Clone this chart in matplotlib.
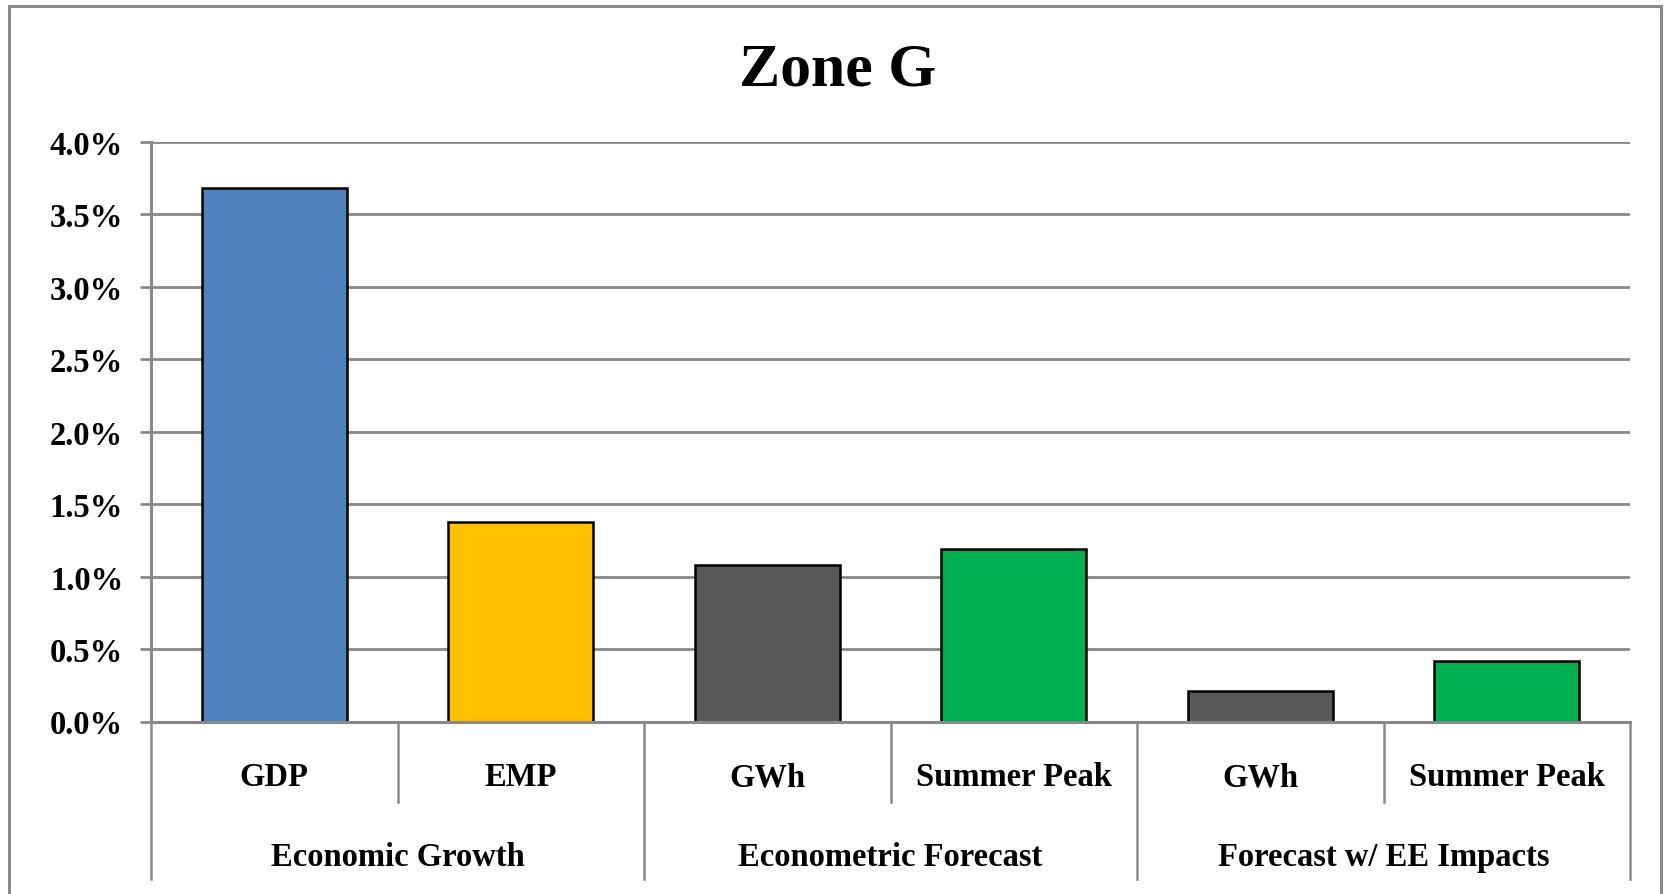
"""
Zone G growth rates: bar chart with two-level category axis.
"""

import matplotlib
matplotlib.use("Agg")
import matplotlib.pyplot as plt
from matplotlib.ticker import FuncFormatter
from matplotlib.lines import Line2D

# data
sub_labels = ["GDP", "EMP", "GWh", "Summer Peak", "GWh", "Summer Peak"]
group_labels = ["Economic Growth", "Econometric Forecast", "Forecast w/ EE Impacts"]
group_sizes = [2, 2, 2]
growth_pct = [3.68, 1.38, 1.08, 1.19, 0.21, 0.42]
bar_colors = ["#4F81BD", "#FFC000", "#595959", "#00B050", "#595959", "#00B050"]
y_ticks = [0.0, 0.5, 1.0, 1.5, 2.0, 2.5, 3.0, 3.5, 4.0]

W, H, DPI = 1669, 895, 100
GRAY = "#898989"
FONT = "Liberation Serif"

fig = plt.figure(figsize=(W / DPI, H / DPI), dpi=DPI)

# outer chart-area border (bottom edge runs off the picture)
for xs, ys in [([9, 9], [0, 888]), ([9, 1661], [888, 888]), ([1661, 1661], [888, 0])]:
    fig.add_artist(Line2D([x / W for x in xs], [y / H for y in ys],
                          color=GRAY, lw=2.2, transform=fig.transFigure))

left, right, top, bottom = 151, 1630, 143, 722.5
ax = fig.add_axes([left / W, 1 - bottom / H, (right - left) / W, (bottom - top) / H])

x = list(range(len(growth_pct)))
ax.bar(x, growth_pct, width=0.59, color=bar_colors, edgecolor="black",
       linewidth=1.8, zorder=3)

ax.set_xlim(-0.5, len(x) - 0.5)
ax.set_ylim(0, 4.0)
ax.set_yticks(y_ticks)
ax.yaxis.set_major_formatter(FuncFormatter(lambda v, _: f"{v:.1f}%"))
ax.grid(axis="y", color=GRAY, lw=2, zorder=0)
ax.set_axisbelow(True)
ax.set_xticks([])

for s in ["top", "right"]:
    ax.spines[s].set_visible(False)
for s in ["left", "bottom"]:
    ax.spines[s].set_color(GRAY)
    ax.spines[s].set_linewidth(2.2)
ax.spines["bottom"].set_zorder(4)

ax.tick_params(axis="y", length=8, width=2, color=GRAY, pad=12)
for lab in ax.get_yticklabels():
    lab.set_fontfamily(FONT)
    lab.set_fontweight("bold")
    lab.set_fontsize(23.5)

# two-level category axis
span = bottom - top
sub_y = -(778 - bottom) / span
grp_y = -(858 - bottom) / span
sub_sep = -(803 - bottom) / span
grp_sep = -(880 - bottom) / span
trans = ax.get_xaxis_transform()

for i, lab in enumerate(sub_labels):
    ax.text(i, sub_y, lab, transform=trans, ha="center", va="center",
            fontfamily=FONT, fontweight="bold", fontsize=23.5)

start = 0
edges = [-0.5]
for g, n in zip(group_labels, group_sizes):
    mid = start + (n - 1) / 2
    ax.text(mid, grp_y, g, transform=trans, ha="center", va="center",
            fontfamily=FONT, fontweight="bold", fontsize=23.5)
    for k in range(1, n):
        xs = start + k - 0.5
        ax.plot([xs, xs], [0, sub_sep], transform=trans, color=GRAY,
                lw=1.8, clip_on=False)
    start += n
    edges.append(start - 0.5)

for xs in edges:
    ax.plot([xs, xs], [0, grp_sep], transform=trans, color=GRAY,
            lw=1.8, clip_on=False)

fig.text(838 / W, 1 - 71 / H, "Zone G", ha="center", va="center",
         fontfamily=FONT, fontweight="bold", fontsize=44.5)

fig.savefig("out.png", dpi=DPI)
